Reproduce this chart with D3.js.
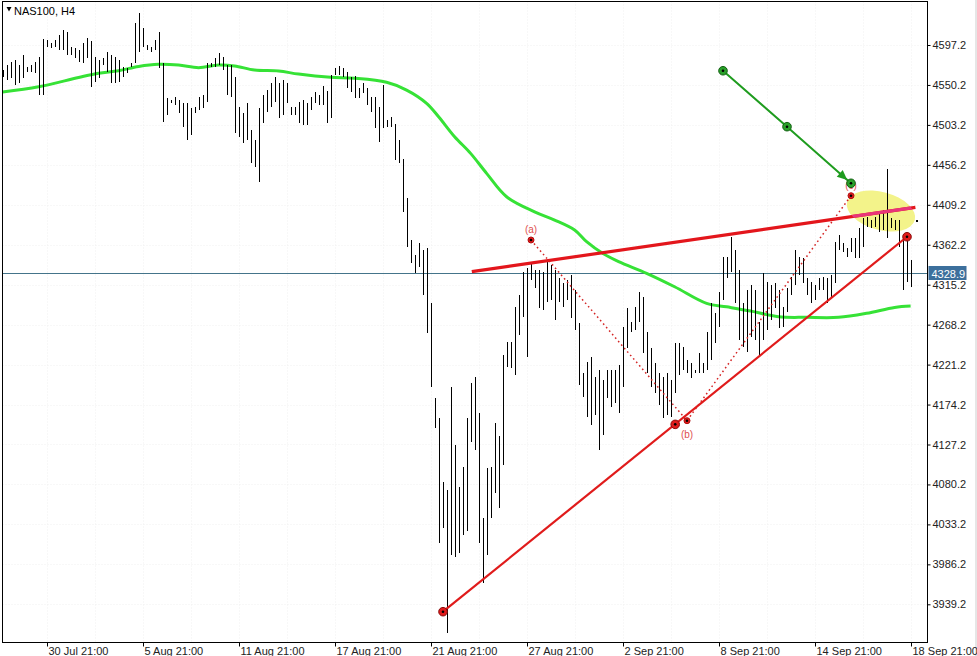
<!DOCTYPE html>
<html><head><meta charset="utf-8">
<script src="https://cdn.jsdelivr.net/npm/d3@7"></script>
<style>
body{margin:0;background:#fff;}
svg{display:block;font-family:"Liberation Sans",Arial,sans-serif;}
</style>
</head><body>
<svg id="c" width="977" height="656"></svg>
<script>
// ---------- DATA ----------
const symbolTitle = "NAS100, H4";
const highs = [4568,4574,4577,4580,4574,4585,4571,4574,4577,4583,4604,4603,4600,4603,4609,4615,4612,4595,4594,4591,
4600,4605,4602,4583,4580,4582,4589,4585,4583,4580,4571,4570,4576,4623,4635,4617,4597,4595,4603,4612,
4576,4535,4532,4536,4532,4529,4529,4523,4524,4536,4538,4576,4576,4582,4588,4583,4574,4574,4560,4524,
4517,4529,4497,4485,4523,4538,4544,4552,4560,4552,4556,4552,4524,4524,4530,4532,4529,4536,4542,4538,
4549,4543,4562,4570,4573,4570,4565,4560,4561,4547,4552,4547,4536,4536,4524,4550,4509,4512,4504,4485,
4463,4417,4368,4350,4364,4356,4358,4294,4182,4158,4083,4074,4195,4127,4077,4101,4158,4200,4207,4164,
4041,4100,4101,4152,4137,4233,4248,4248,4289,4303,4330,4335,4342,4333,4333,4330,4342,4338,4333,4323,
4317,4321,4327,4309,4270,4211,4224,4230,4207,4215,4203,4215,4215,4215,4221,4265,4288,4271,4289,4307,
4301,4260,4241,4223,4211,4207,4211,4203,4247,4247,4242,4227,4223,4215,4235,4223,4260,4294,4282,4307,
4348,4348,4371,4356,4333,4294,4309,4315,4309,4271,4329,4318,4315,4317,4309,4289,4311,4324,4356,4348,
4347,4323,4318,4315,4323,4324,4323,4327,4365,4374,4364,4358,4370,4370,4382,4394,4395,4391,4395,4401,
4403,4451,4394,4391,4391,4371,4370,4344];
const lows = [4560,4556,4558,4550,4552,4558,4565,4565,4564,4538,4538,4595,4594,4595,4591,4591,4585,4585,4582,4577,
4576,4582,4548,4554,4558,4574,4565,4552,4552,4554,4560,4564,4571,4576,4589,4595,4591,4589,4591,4570,
4507,4515,4529,4527,4517,4501,4485,4491,4517,4521,4523,4530,4571,4571,4574,4568,4538,4536,4494,4489,
4482,4485,4458,4454,4436,4505,4518,4524,4530,4511,4515,4529,4515,4515,4505,4503,4503,4521,4529,4527,
4527,4506,4511,4562,4562,4560,4547,4542,4535,4535,4541,4527,4518,4500,4483,4500,4501,4501,4462,4458,
4401,4360,4341,4329,4336,4303,4258,4195,4147,4011,4029,3905,3997,3995,4000,4021,4026,4130,4121,4011,
3964,3997,4041,4070,4052,4103,4218,4217,4209,4256,4277,4230,4321,4311,4288,4285,4295,4297,4274,4295,
4289,4297,4276,4262,4197,4183,4160,4150,4162,4121,4138,4182,4171,4176,4164,4195,4241,4260,4262,4271,
4235,4211,4195,4188,4174,4158,4162,4160,4188,4209,4215,4211,4205,4211,4211,4211,4215,4227,4247,4265,
4297,4323,4330,4294,4250,4242,4236,4254,4250,4232,4250,4262,4274,4288,4264,4265,4283,4303,4315,4327,
4317,4303,4294,4297,4309,4309,4294,4301,4317,4356,4354,4348,4354,4347,4347,4360,4383,4382,4383,4377,
4380,4370,4382,4380,4360,4309,4318,4312];
// moving average read at sample bars
const maIndex = [0,9,19,24,29,34,39,44,49,54,58,63,69,74,82,88,96,101,106,109,113,117,121,126,133,138,143,146,150,154,161,168,176,181,187,194,201,209,216,223,227];
const maValue = [4542,4548,4559,4564,4567,4572,4574.5,4573.6,4570.5,4573.6,4572.5,4567.7,4566.6,4563,4559.2,4558,4553.3,4544.2,4528.6,4512.8,4489.3,4469.7,4446.2,4418.7,4401,4391.3,4379.5,4365.8,4352.1,4342.3,4328.6,4312.8,4293.2,4289.2,4284.2,4277.5,4276.8,4276.8,4281.5,4288.5,4290.1];
const xTickIndex = [11,35,59,83,107,131,155,179,203,227];
const xTickLabels = ["30 Jul 21:00","5 Aug 21:00","11 Aug 21:00","17 Aug 21:00","21 Aug 21:00","27 Aug 21:00","2 Sep 21:00","8 Sep 21:00","14 Sep 21:00","18 Sep 21:00"];
const yTickValues = [4597.2,4550.2,4503.2,4456.2,4409.2,4362.2,4315.2,4268.2,4221.2,4174.2,4127.2,4080.2,4033.2,3986.2,3939.2];
const lastPrice = 4328.9;
// drawing objects (bar index, price)
const resistIdx = [117.3,228.2], resistVal = [4330.5,4406.2];
const supportIdx = [110.1,168.15,226.1], supportVal = [3930.5,4150.9,4371.6];
const waveIdx = [132.1,171.1,212.1], waveVal = [4367.8,4155.2,4419.9], waveLabels = ["(a)","(b)","(c)"];
const arrowIdx = [180.1,196.1,212.1], arrowVal = [4566.9,4501.1,4434.5];
const ellipseIdx = 219.6, ellipseVal = 4401.9;

// ---------- CHART ----------
const W = 977, H = 656;
const L = 2.5, R = 927.5, T = 1.5, B = 642.5;
const svg = d3.select("#c");
const x = d3.scaleLinear().domain([0,227]).range([2.6,910.6]);
const y = d3.scaleLinear().domain([3939.2,4597.2]).range([604.3,45]);
const cx = i => Math.round(x(i)) + 0.5;

svg.append("rect").attr("x",0).attr("y",0).attr("width",W).attr("height",H).attr("fill","#fff");
svg.append("rect").attr("x",975).attr("y",0).attr("width",2).attr("height",H).attr("fill","#e6e6e6");

// faint grid
const g0 = svg.append("g").attr("stroke","#f1f1f1").attr("stroke-width",1).attr("stroke-dasharray","1,2");
yTickValues.forEach(v=>{ const yy=Math.round(y(v))+0.5; g0.append("line").attr("x1",L).attr("x2",R).attr("y1",yy).attr("y2",yy);});
d3.range(-1,xTickIndex.length*2).forEach(k=>{ const i=11+12*k; if(x(i)<L||x(i)>R) return; const xx=cx(i); g0.append("line").attr("x1",xx).attr("x2",xx).attr("y1",T).attr("y2",B);});

const clip = svg.append("defs").append("clipPath").attr("id","plot");
clip.append("rect").attr("x",L).attr("y",T).attr("width",R-L).attr("height",B-T);
const plot = svg.append("g").attr("clip-path","url(#plot)");

// yellow ellipse
const ex = x(ellipseIdx), ey = y(ellipseVal);
const defs = svg.select("defs");
defs.append("clipPath").attr("id","ell").append("ellipse")
  .attr("cx",ex).attr("cy",ey).attr("rx",35).attr("ry",19).attr("transform",`rotate(15 ${ex} ${ey})`);
plot.append("ellipse").attr("cx",ex).attr("cy",ey).attr("rx",35).attr("ry",19)
  .attr("transform",`rotate(15 ${ex} ${ey})`).attr("fill","#f3f38a");

// current price line
const py = Math.round(y(lastPrice))+0.5;
plot.append("line").attr("x1",L).attr("x2",R).attr("y1",py).attr("y2",py).attr("stroke","#44748a").attr("stroke-width",1);

// MA
const ma = maIndex.map((d,k)=>[x(d),y(maValue[k])]);
plot.append("path").attr("d",d3.line().curve(d3.curveCatmullRom)(ma)).attr("fill","none")
  .attr("stroke","#36e236").attr("stroke-width",3).attr("stroke-linejoin","round");

// bars
plot.append("g").selectAll("line").data(highs).join("line")
  .attr("x1",(d,i)=>cx(i)).attr("x2",(d,i)=>cx(i))
  .attr("y1",d=>Math.round(y(d))).attr("y2",(d,i)=>Math.round(y(lows[i])))
  .attr("stroke","#000").attr("stroke-width",1);

// wave dotted
const wp = waveIdx.map((d,k)=>[x(d),y(waveVal[k])]);
plot.append("path").attr("d",d3.line()(wp)).attr("fill","none").attr("stroke","#d42525")
  .attr("stroke-width",1.5).attr("stroke-dasharray","1.6,3");

// resistance (thick)
const rp = resistIdx.map((d,k)=>[x(d),y(resistVal[k])]);
plot.append("path").attr("d",d3.line()(rp)).attr("stroke","#e3161c").attr("stroke-width",3.2).attr("fill","none");
plot.append("path").attr("d",d3.line()(rp)).attr("stroke","#e8357a").attr("stroke-width",3.2).attr("fill","none").attr("clip-path","url(#ell)");

// support line
const sp = supportIdx.map((d,k)=>[x(d),y(supportVal[k])]);
plot.append("path").attr("d",d3.line()([sp[0],sp[sp.length-1]])).attr("stroke","#e01b1b").attr("stroke-width",2.2).attr("fill","none");

// green arrow
const ap = arrowIdx.map((d,k)=>[x(d),y(arrowVal[k])]);
plot.append("path").attr("d",d3.line()(ap)).attr("stroke","#1f9c1f").attr("stroke-width",2).attr("fill","none");
{
  const [x1,y1]=ap[1],[x2,y2]=ap[2]; const a=Math.atan2(y2-y1,x2-x1);
  const tipX=x2-5*Math.cos(a), tipY=y2-5*Math.sin(a);
  const hl=10, hw=4.5;
  const bx=tipX-hl*Math.cos(a), by=tipY-hl*Math.sin(a);
  const pts=[[tipX,tipY],[bx+hw*Math.sin(a),by-hw*Math.cos(a)],[bx-hw*Math.sin(a),by+hw*Math.cos(a)]];
  plot.append("path").attr("d","M"+pts.map(p=>p.join(",")).join("L")+"Z").attr("fill","#1f9c1f");
}

// labels of wave
const lab = plot.append("g").attr("font-size",10).attr("fill","#e05050").attr("text-anchor","middle");
lab.append("text").attr("x",wp[0][0]).attr("y",wp[0][1]-7).text(waveLabels[0]);
lab.append("text").attr("x",wp[1][0]).attr("y",wp[1][1]+17).text(waveLabels[1]);
lab.append("text").attr("x",wp[2][0]).attr("y",wp[2][1]-7).text(waveLabels[2]);

// markers
function marker(p,fill,ring,r){
  plot.append("circle").attr("cx",p[0]).attr("cy",p[1]).attr("r",r).attr("fill",fill).attr("stroke",ring).attr("stroke-width",1);
  plot.append("circle").attr("cx",p[0]).attr("cy",p[1]).attr("r",1.3).attr("fill","#000");
}
wp.forEach(p=>marker(p,"#e41b1b","#b01010",3));
sp.forEach(p=>marker(p,"#e01b1b","#8a0c0c",4.3));
ap.forEach(p=>marker(p,"#2aa02a","#126012",4.3));
plot.append("rect").attr("x",Math.round(ex+34.5)).attr("y",Math.round(ey+9)).attr("width",2).attr("height",2).attr("fill","#000");

// frame
svg.append("rect").attr("x",L).attr("y",T).attr("width",R-L).attr("height",B-T).attr("fill","none").attr("stroke","#000").attr("stroke-width",1);

// Y axis
const yAxis = svg.append("g").attr("transform",`translate(${R},0)`)
  .call(d3.axisRight(y).tickValues(yTickValues).tickFormat(d3.format(".1f")).tickSize(3).tickPadding(2));
yAxis.select(".domain").remove();
yAxis.selectAll("line").attr("stroke","#000");
yAxis.selectAll("text").attr("font-size",11).attr("fill","#222").attr("font-family","Liberation Sans, Arial, sans-serif");

// price label
const pl = svg.append("g");
pl.append("rect").attr("x",R+1).attr("y",py-7.5).attr("width",38).attr("height",14).attr("fill","#3c6f9c");
pl.append("text").attr("x",R+4).attr("y",py+4).attr("font-size",11).attr("fill","#fff").text(lastPrice.toFixed(1));

// X axis
const xAxis = svg.append("g").attr("transform",`translate(0,${B})`)
  .call(d3.axisBottom(x).tickValues(xTickIndex).tickFormat((d,k)=>xTickLabels[k]).tickSize(4).tickPadding(1));
xAxis.select(".domain").remove();
xAxis.selectAll(".tick").attr("transform",d=>`translate(${cx(d)},0)`);
xAxis.selectAll("line").attr("stroke","#000");
xAxis.selectAll("text").attr("text-anchor","start").attr("x",1).attr("font-size",11).attr("fill","#222").attr("font-family","Liberation Sans, Arial, sans-serif");

// title
const t = svg.append("g");
t.append("path").attr("d","M6.5,7 L11.5,7 L9,11.5 Z").attr("fill","#000");
t.append("text").attr("x",14).attr("y",15).attr("font-size",11).attr("fill","#000").text(symbolTitle);
</script>
</body></html>
